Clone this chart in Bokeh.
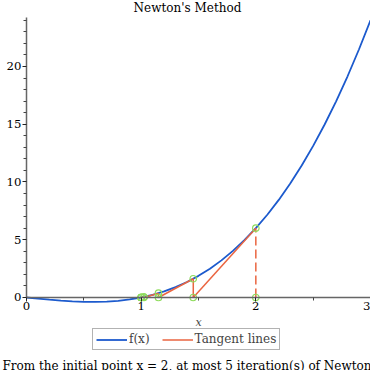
from bokeh.plotting import figure
from bokeh.models import (Range1d, Label, Legend, LegendItem, FixedTicker)
from bokeh.embed import file_html
from bokeh.resources import INLINE

# ---- data ----
curve_x = [0.0, 0.1, 0.2, 0.3, 0.4, 0.5, 0.6, 0.7, 0.8, 0.9, 1.0, 1.1, 1.2, 1.3, 1.4, 1.5,
           1.6, 1.7, 1.8, 1.9, 2.0, 2.1, 2.2, 2.3, 2.4, 2.5, 2.6, 2.7, 2.8, 2.9, 3.0]
curve_y = [0.0, -0.099, -0.192, -0.273, -0.336, -0.375, -0.384, -0.357, -0.288, -0.171, 0.0,
           0.231, 0.528, 0.897, 1.344, 1.875, 2.496, 3.213, 4.032, 4.959, 6.0, 7.161, 8.448,
           9.867, 11.424, 13.125, 14.976, 16.983, 19.152, 21.489, 24.0]
iter_x = [2.0, 1.4545, 1.1510, 1.0253, 1.0009, 1.0000]
iter_y = [6.0, 1.6224, 0.3739, 0.0526, 0.0018, 0.0]
x_ticks = [0, 1, 2, 3]
x_minor = [0.5, 1.5, 2.5]
y_ticks = [0, 5, 10, 15, 20]
y_minor = [1, 2, 3, 4, 6, 7, 8, 9, 11, 12, 13, 14, 16, 17, 18, 19, 21, 22, 23, 24]
title_text = "Newton's Method"
caption_text = "From the initial point x = 2, at most 5 iteration(s) of Newton's method"

FONT = "DejaVu Serif"
FS = "11.7px"
FS_TXT = "12px"
BLUE = "#1C5ACD"
ORANGE = "#EA6540"
GREEN = "#8EDC5C"
AXIS = "#666666"

# frame covers the whole canvas; axes cross at the origin
p = figure(width=370, height=370, output_backend="svg", toolbar_location=None,
           x_range=Range1d(-0.2267, 3.0), y_range=Range1d(-6.32, 25.71),
           min_border_left=0, min_border_right=0, min_border_top=0, min_border_bottom=0)
p.outline_line_color = None
p.grid.visible = False
p.background_fill_color = "white"
p.border_fill_color = "white"

p.xaxis.fixed_location = 0
p.yaxis.fixed_location = 0
p.xaxis.bounds = (0, 3)
p.yaxis.bounds = (0, 24.2)
for ax in (p.xaxis[0], p.yaxis[0]):
    ax.axis_line_color = AXIS
    ax.axis_line_width = 1.5
    ax.major_tick_line_color = "#222222"
    ax.minor_tick_line_color = "#444444"
    ax.major_tick_in = 0
    ax.major_tick_out = 4
    ax.minor_tick_in = 0
    ax.minor_tick_out = 3
    ax.major_label_text_font = FONT
    ax.major_label_text_font_size = FS
    ax.major_label_text_color = "black"
    ax.major_label_standoff = 1
p.xaxis.ticker = FixedTicker(ticks=x_ticks, minor_ticks=x_minor)
p.yaxis.ticker = FixedTicker(ticks=y_ticks, minor_ticks=y_minor)
p.xaxis.axis_label = "x"
p.xaxis.axis_label_text_font = FONT
p.xaxis.axis_label_text_font_style = "italic"
p.xaxis.axis_label_text_font_size = "11px"
p.xaxis.axis_label_standoff = 2

# curve
r_curve = p.line(curve_x, curve_y, line_color=BLUE, line_width=1.8)

# tangent construction
seg_x0, seg_y0, seg_x1, seg_y1 = [], [], [], []
vx, vy0, vy1 = [], [], []
for i in range(len(iter_x) - 1):
    seg_x0.append(iter_x[i]); seg_y0.append(iter_y[i])
    seg_x1.append(iter_x[i + 1]); seg_y1.append(0)
    vx.append(iter_x[i + 1]); vy0.append(0); vy1.append(iter_y[i + 1])
r_tan = p.segment(seg_x0, seg_y0, seg_x1, seg_y1, line_color=ORANGE, line_width=1.5)
p.segment(vx, vy0, vx, vy1, line_color=ORANGE, line_width=1.5)
p.segment([iter_x[0]], [0], [iter_x[0]], [iter_y[0]], line_color=ORANGE, line_width=1.5,
          line_dash="9 4")
p.scatter(iter_x + iter_x, iter_y + [0] * len(iter_x), marker="circle", size=6.5,
          fill_color=None, line_color=GREEN, line_width=1.2)

# legend (screen pixels from the frame's bottom-left)
legend = Legend(items=[LegendItem(label="f(x)", renderers=[r_curve]),
                       LegendItem(label="Tangent lines", renderers=[r_tan])],
                orientation="horizontal", location=(92, 20),
                label_text_font=FONT, label_text_font_size=FS_TXT,
                border_line_color=AXIS, border_line_width=1.5,
                glyph_width=31, glyph_height=13, label_standoff=2, spacing=12,
                padding=3, margin=0, label_height=13)
p.add_layout(legend)

# title and caption
p.add_layout(Label(x=1.404, y=25.02, text=title_text, text_font=FONT, text_font_size=FS_TXT,
                   text_align="center", text_baseline="middle", text_color="black"))
p.add_layout(Label(x=-0.2093, y=-5.97, text=caption_text, text_font=FONT, text_font_size=FS_TXT,
                   text_align="left", text_baseline="middle", text_color="black"))

open("out.html", "w").write(file_html(p, INLINE))
